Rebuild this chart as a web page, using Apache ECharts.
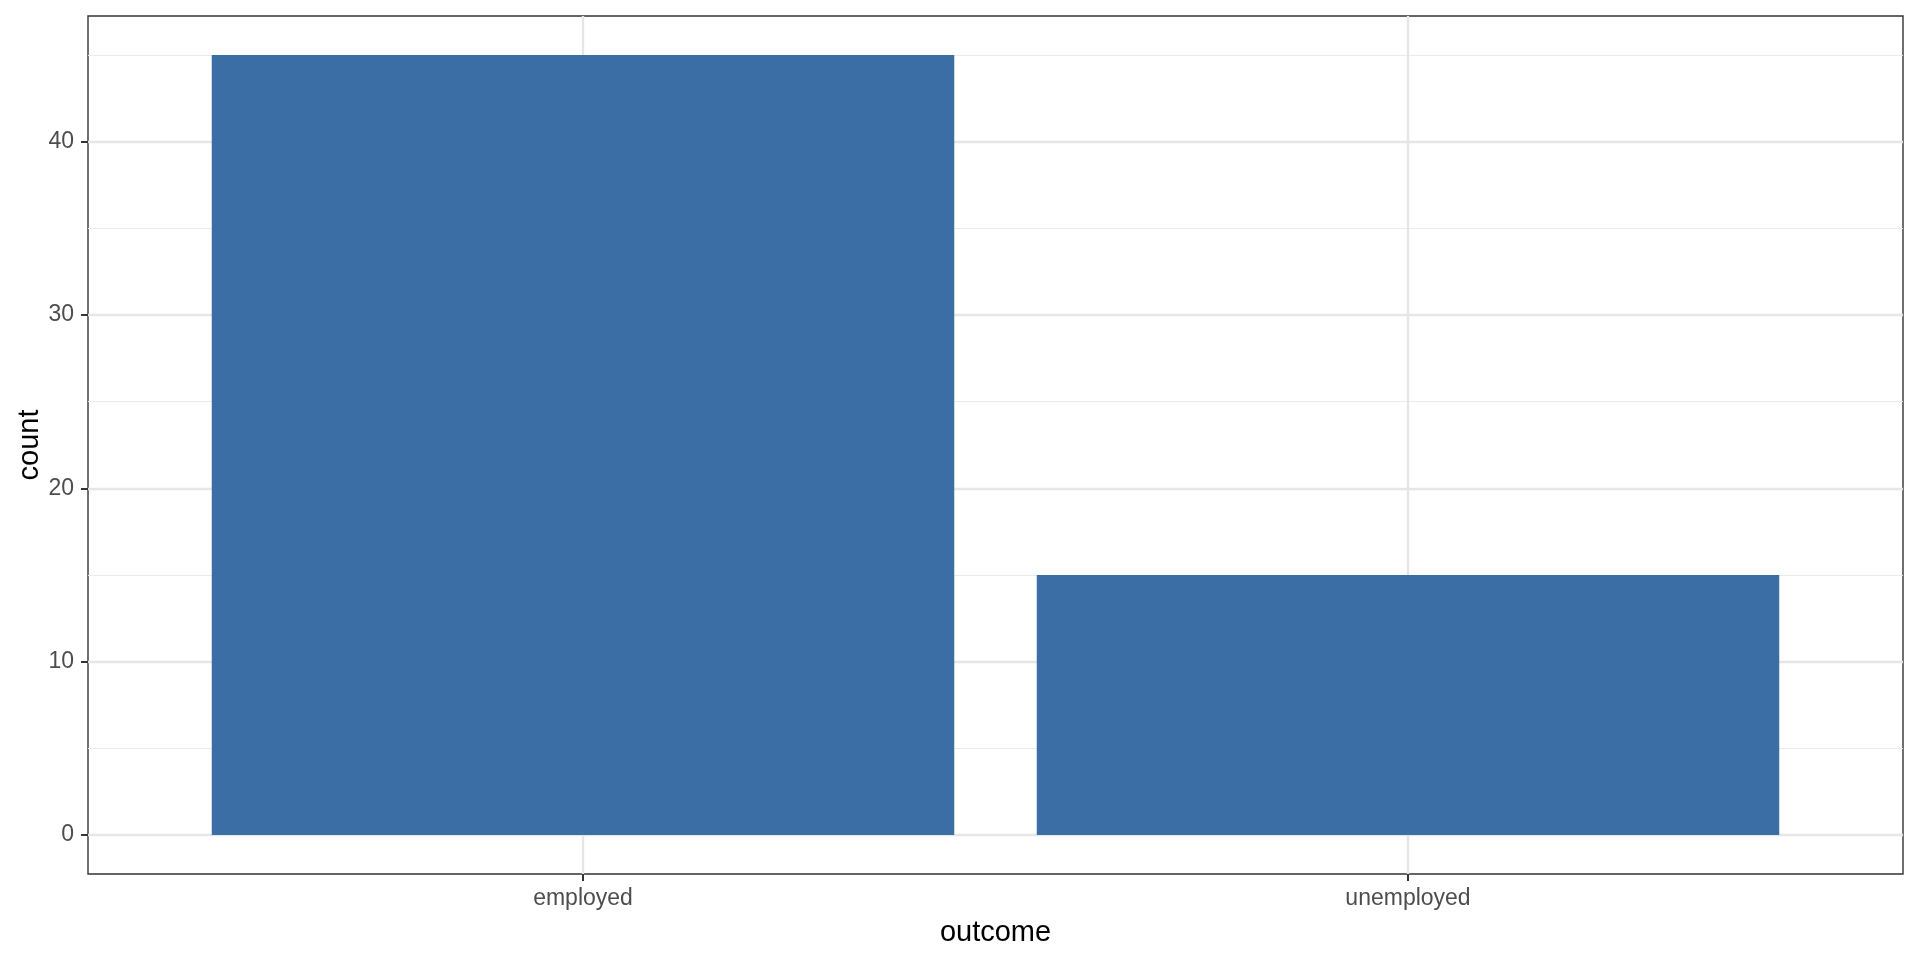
<!DOCTYPE html>
<html>
<head>
<meta charset="utf-8">
<style>
  html, body { margin: 0; padding: 0; background: #fff; }
  #main { width: 1920px; height: 960px; }
</style>
<script src="https://cdn.jsdelivr.net/npm/echarts@6/dist/echarts.min.js"></script>
</head>
<body>
<div id="main"></div>
<script>
var categories = ['employed', 'unemployed'];
var counts = [45, 15];
var yMajorTicks = [0, 10, 20, 30, 40];
var yMinorTicks = [5, 15, 25, 35, 45];
var xTicks = [1, 2];

var barColor = '#3A6EA5';
var font = '"Liberation Sans", Arial, Helvetica, sans-serif';
var halfBar = 0.45;

var barData = counts.map(function (v, i) { return [i + 1, v]; });

var myChart = echarts.init(document.getElementById('main'));
var option = {
  backgroundColor: '#ffffff',
  animation: false,
  grid: {
    left: 88, top: 16, right: 17, bottom: 86,
    show: true, borderColor: '#333333', borderWidth: 1.4,
    backgroundColor: '#ffffff'
  },
  xAxis: [{
    type: 'value',
    min: 0.4, max: 2.6,
    name: 'outcome',
    nameLocation: 'middle',
    nameGap: 44,
    nameMoveOverlap: false,
    nameTextStyle: { fontFamily: font, fontSize: 29, color: '#000000' },
    axisLine: { show: false, onZero: false },
    axisTick: { show: true, length: 7, customValues: xTicks,
      lineStyle: { color: '#333333', width: 2 } },
    axisLabel: { show: true, customValues: xTicks, margin: 13,
      fontFamily: font, fontSize: 23, color: '#4D4D4D',
      formatter: function (v) { return categories[Math.round(v) - 1] || ''; } },
    splitLine: { show: true, lineStyle: { color: '#E6E6E6', width: 2.4 } }
  }],
  yAxis: [{
    type: 'value',
    min: -2.25, max: 47.25,
    name: 'count',
    nameLocation: 'middle',
    nameGap: 44,
    nameMoveOverlap: false,
    nameTextStyle: { fontFamily: font, fontSize: 29, color: '#000000' },
    axisLine: { show: false },
    axisTick: { show: true, length: 7, customValues: yMajorTicks,
      lineStyle: { color: '#333333', width: 2 } },
    axisLabel: { show: true, customValues: yMajorTicks, margin: 14,
      fontFamily: font, fontSize: 23, color: '#4D4D4D' },
    splitLine: { show: true, lineStyle: { color: '#E6E6E6', width: 2.4 } }
  }, {
    type: 'value',
    position: 'left',
    min: -2.25, max: 47.25,
    axisLine: { show: false },
    axisTick: { show: false, customValues: yMinorTicks },
    axisLabel: { show: false, customValues: yMinorTicks },
    splitLine: { show: true, lineStyle: { color: '#EBEBEB', width: 1.2 } }
  }],
  series: [{
    type: 'custom',
    xAxisIndex: 0,
    yAxisIndex: 0,
    data: barData,
    encode: { x: 0, y: 1 },
    renderItem: function (params, api) {
      var x = api.value(0);
      var y = api.value(1);
      var p0 = api.coord([x - halfBar, y]);
      var p1 = api.coord([x + halfBar, 0]);
      return {
        type: 'rect',
        shape: { x: p0[0], y: p0[1], width: p1[0] - p0[0], height: p1[1] - p0[1] },
        style: { fill: barColor }
      };
    }
  }]
};
myChart.setOption(option);
</script>
</body>
</html>
